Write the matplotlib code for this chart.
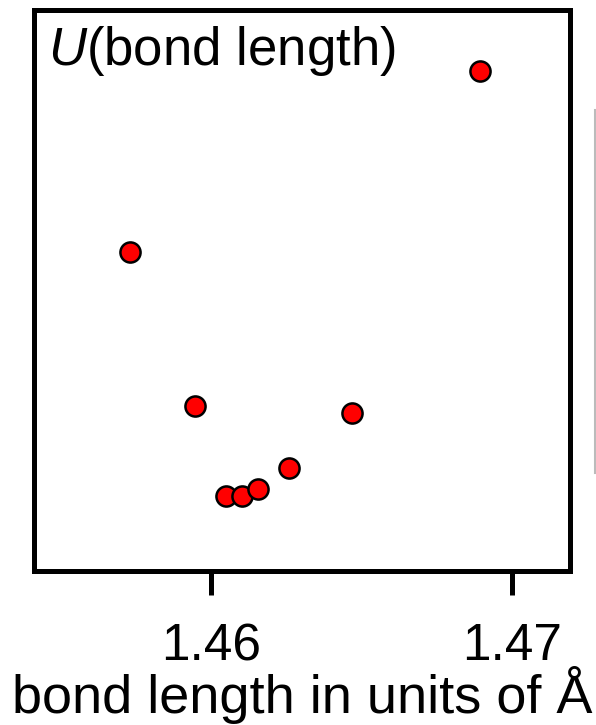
import matplotlib
matplotlib.use("Agg")
import matplotlib.pyplot as plt
from matplotlib.lines import Line2D

plt.rcParams['font.family'] = ['Liberation Sans', 'DejaVu Sans']
plt.rcParams['mathtext.fontset'] = 'custom'
plt.rcParams['mathtext.it'] = 'Liberation Sans:italic'
plt.rcParams['mathtext.rm'] = 'Liberation Sans'

bond_length = [1.45731, 1.45947, 1.46050, 1.46103, 1.46156, 1.46259, 1.46468, 1.46894]
energy = [0.569, 0.294, 0.134, 0.134, 0.146, 0.184, 0.282, 0.891]
xticks = [1.46, 1.47]
xtick_labels = ["1.46", "1.47"]

fig = plt.figure(figsize=(5.96, 7.25), dpi=100)
ax = fig.add_axes([34/596, 1-571/725, 536/596, 561/725])
ax.plot(bond_length, energy, linestyle='none', marker='o', markersize=14.5,
        markerfacecolor='#ff0000', markeredgecolor='black', markeredgewidth=1.8)
ax.set_xlim(1.45412, 1.47193)
ax.set_ylim(0, 1)
ax.set_yticks([])
ax.set_xticks(xticks)
ax.set_xticklabels(xtick_labels, fontsize=37)
ax.tick_params(axis='x', direction='out', length=17, width=3.6, pad=20)
for s in ax.spines.values():
    s.set_linewidth(3.6)
ax.set_xlabel("bond length in units of Å", fontsize=39, labelpad=-4)
ax.text(0.026, 0.975, r"$U$(bond length)", transform=ax.transAxes,
        fontsize=38, ha='left', va='top')

fig.add_artist(Line2D([595/596, 595/596], [1-110/725, 1-473/725],
                      transform=fig.transFigure, color='#bbbbbb', linewidth=1.5))

fig.savefig("out.png", dpi=100)
